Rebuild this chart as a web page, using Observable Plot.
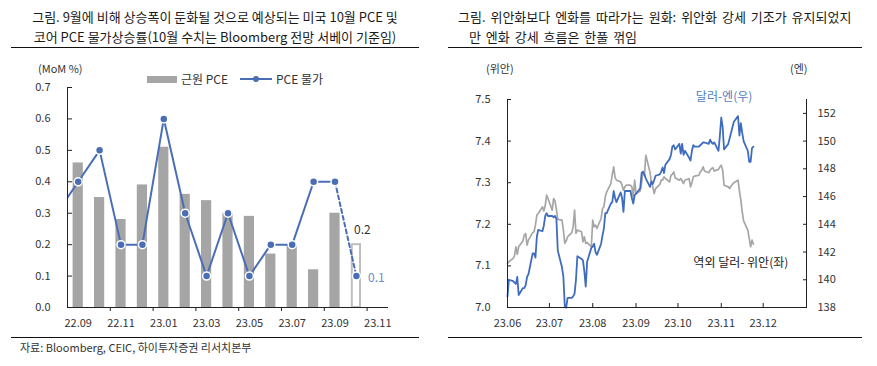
<!DOCTYPE html>
<html><head><meta charset="utf-8">
<script src="https://cdn.jsdelivr.net/npm/d3@7"></script>
<script src="https://cdn.jsdelivr.net/npm/@observablehq/plot@0.6"></script>
<style>
body{margin:0;background:#fff;font-family:"Noto Sans CJK KR","Noto Sans",sans-serif;color:#1a1a1a}
#wrap{position:relative;width:877px;height:366px;overflow:hidden}
.abs{position:absolute;white-space:nowrap}
.title{font-size:13px;line-height:20px}
.hr{position:absolute;height:0;border-top:1px solid #111}
.sm{font-size:11px;color:#333}
svg{position:absolute}
</style></head><body><div id="wrap"></div>
<script>
// ---------- Left chart data ----------
const months = ["22.09","22.10","22.11","22.12","23.01","23.02","23.03","23.04","23.05","23.06","23.07","23.08","23.09","23.10","23.11"];
const corePce = [0.46,0.35,0.28,0.39,0.51,0.36,0.34,0.30,0.29,0.17,0.20,0.12,0.30]; // 22.09–23.09
const corePceForecast = 0.2;   // 23.10 (Bloomberg survey)
const headlinePrev = 0.3;      // 22.08 (clipped at left edge)
const headlinePce = [0.4,0.5,0.2,0.2,0.6,0.3,0.1,0.3,0.1,0.2,0.2,0.4,0.4]; // 22.09–23.09
const headlineForecast = 0.1;  // 23.10
const leftYTicks = [0,0.1,0.2,0.3,0.4,0.5,0.6,0.7];

// ---------- Right chart data (business days 2023-06-01 … 2023-11-24) ----------
const cnhJun = [7.106,7.110,7.118,7.124,7.146,7.128,7.146,7.160,7.174,7.178,7.150,7.162,7.180,7.182,7.198,7.222,7.226,7.242,7.232,7.245,7.270,7.262];
const cnhJul = [7.234,7.262,7.256,7.236,7.212,7.210,7.186,7.154,7.160,7.170,7.180,7.194,7.234,7.178,7.186,7.182,7.158,7.170,7.154,7.156,7.146];
const cnhAug = [7.210,7.194,7.198,7.190,7.214,7.238,7.242,7.266,7.278,7.298,7.320,7.338,7.312,7.306,7.302,7.294,7.282,7.290,7.294,7.294,7.290,7.266,7.306];
const cnhSep = [7.274,7.280,7.300,7.326,7.318,7.366,7.325,7.300,7.290,7.274,7.286,7.296,7.306,7.306,7.314,7.310,7.302,7.318,7.320,7.326,7.312];
const cnhOct = [7.306,7.310,7.304,7.298,7.306,7.310,7.290,7.300,7.314,7.316,7.318,7.326,7.330,7.338,7.328,7.324,7.330,7.334,7.336,7.328,7.332,7.338];
const cnhNov = [7.342,7.330,7.294,7.290,7.286,7.292,7.296,7.300,7.306,7.280,7.258,7.230,7.208,7.186,7.166,7.146,7.162,7.152];

const jpyJun = [138.8,140.0,139.9,139.8,139.7,140.2,138.9,139.4,139.4,139.6,140.2,140.4,141.9,141.9,141.6,143.1,143.6,143.5,143.9,144.6,144.8,144.6];
const jpyJul = [144.6,144.5,144.6,144.4,142.1,140.9,140.2,138.1,138.0,138.7,138.7,138.8,139.0,140.0,141.7,141.5,141.4,140.6,139.5,141.3,142.3];
const jpyAug = [142.4,142.6,142.0,141.8,142.6,143.2,143.7,144.8,144.8,145.5,145.6,146.4,145.9,145.6,146.3,145.9,144.9,146.4,146.4,146.4,145.9,145.5,146.1];
const jpySep = [146.2,146.6,147.7,147.8,147.6,147.3,146.7,147.1,146.9,147.2,147.5,147.6,147.8,148.1,147.7,148.3,148.7,149.0,149.6,149.7,149.4];
const jpyOct = [149.8,149.1,149.8,149.0,149.3,148.8,148.6,149.3,149.7,149.6,149.6,149.7,149.8,149.9,149.9,149.8,150.1,149.9,149.8,149.9,149.3,150.4];
const jpyNov = [151.7,151.0,149.4,149.8,150.2,150.6,151.0,151.4,151.8,150.4,151.3,150.6,150.0,149.3,148.5,148.5,149.5,149.6];

const cnhTicks = [7.0,7.1,7.2,7.3,7.4,7.5];
const jpyTicks = [138,140,142,144,146,148,150,152];
const cnhDomain = [7.0, 7.5];
const jpyDomain = [138, 153];
const fxStart = "2023-06-01", fxEnd = "2023-11-24", fxAxisEnd = "2024-01-01";
const annotations = [
  {text: "달러-엔(우)", date: "2023-11-03", value: 7.505, color: "#4f7fc0"},
  {text: "역외 달러- 위안(좌)", date: "2023-11-15", value: 7.106, color: "#222"}
];

// ---------- Build ----------
const wrap = document.getElementById("wrap");
function html(tag, cls, style, text){const e=document.createElement(tag);e.className=cls;Object.assign(e.style,style);if(text!=null)e.textContent=text;wrap.appendChild(e);return e;}

const blue = "#4a6eb5";
const font = {fontFamily:'"Noto Sans CJK KR","Noto Sans",sans-serif', fontSize:"11px", color:"#333", background:"transparent", overflow:"visible"};

// Titles
html("div","abs title",{left:"10px",width:"410px",top:"7px",textAlign:"center"},"그림. 9월에 비해 상승폭이 둔화될 것으로 예상되는 미국 10월 PCE 및");
html("div","abs title",{left:"10px",width:"410px",top:"27px",textAlign:"center"},"코어 PCE 물가상승률(10월 수치는 Bloomberg 전망 서베이 기준임)");
html("div","hr",{left:"11px",width:"408px",top:"47px"});
html("div","abs title",{left:"458px",top:"7px",wordSpacing:"2px"},"그림. 위안화보다 엔화를 따라가는 원화: 위안화 강세 기조가 유지되었지");
html("div","abs title",{left:"469px",top:"27px",wordSpacing:"2px"},"만 엔화 강세 흐름은 한풀 꺾임");
html("div","hr",{left:"448px",width:"414px",top:"47px"});

// Left axis unit + legend
html("div","abs sm",{left:"38px",top:"60px"},"(MoM %)");
html("div","abs",{left:"147px",top:"76px",width:"30px",height:"7px",background:"#a5a5a5"});
html("div","abs",{left:"181px",top:"70px",fontSize:"12px",color:"#333"},"근원 PCE");
html("div","abs",{left:"240px",top:"78px",width:"32px",height:"0",borderTop:"2px solid "+blue});
html("div","abs",{left:"253px",top:"76px",width:"6px",height:"6px",borderRadius:"50%",background:blue});
html("div","abs",{left:"276px",top:"70px",fontSize:"12px",color:"#333"},"PCE 물가");

// Right units
html("div","abs sm",{left:"486px",top:"60px"},"(위안)");
html("div","abs sm",{left:"790px",top:"60px"},"(엔)");

// Bottom caption + rules
html("div","hr",{left:"11px",width:"408px",top:"337px"});
html("div","abs sm",{left:"20px",top:"339px"},"자료: Bloomberg, CEIC, 하이투자증권 리서치본부");
html("div","hr",{left:"448px",width:"414px",top:"337px"});

// ---------- Left chart ----------
const coreData = corePce.map((v,i)=>({i, v}));
const fcData = [{i: corePce.length, v: corePceForecast}];
const lineData = [{i:-1, v: headlinePrev}, ...headlinePce.map((v,i)=>({i, v}))];
const dashData = [{i: headlinePce.length-1, v: headlinePce[headlinePce.length-1]}, {i: headlinePce.length, v: headlineForecast}];
const dotData = [...headlinePce.map((v,i)=>({i, v})), {i: headlinePce.length, v: headlineForecast}];
const idx = months.map((m,i)=>i);

const left = Plot.plot({
  width: 420, height: 280,
  marginTop: 27, marginBottom: 33, marginLeft: 67, marginRight: 32,
  style: font,
  x: {type: "linear", domain: [-0.5, months.length - 0.5], label: null},
  y: {domain: [0, 0.7], label: null},
  marks: [
    Plot.rectY(coreData, {x1: d=>d.i-0.5, x2: d=>d.i+0.5, y: "v", insetLeft: 5.6, insetRight: 5.6, fill: "#a5a5a5"}),
    Plot.rectY(fcData, {x1: d=>d.i-0.5, x2: d=>d.i+0.5, y: "v", insetLeft: 6.6, insetRight: 6.6, fill: "white", stroke: "#bfbfbf", strokeWidth: 2}),
    Plot.line(lineData, {x: "i", y: "v", stroke: blue, strokeWidth: 2, clip: true}),
    Plot.line(dashData, {x: "i", y: "v", stroke: blue, strokeWidth: 2, strokeDasharray: "4,3"}),
    Plot.dot(dotData, {x: "i", y: "v", r: 4, fill: blue, stroke: "white", strokeWidth: 1.5}),
    Plot.text(fcData, {x: "i", y: "v", text: d=>d.v.toFixed(1), dx: 6, dy: -14, fill: "#333", fontSize: 12}),
    Plot.text(dotData.slice(-1), {x: "i", y: "v", text: d=>d.v.toFixed(1), dx: 20, dy: 2, fill: "#6b8cc8", fontSize: 12}),
    Plot.ruleX([-0.5], {stroke: "#222"}),
    Plot.ruleY([0], {stroke: "#222"}),
    Plot.axisY(leftYTicks, {anchor: "left", label: null, tickSize: -5, tickPadding: 22, tickFormat: d3.format(".1f"), stroke: "#222"}),
    Plot.axisX(idx.filter(i=>i%2===1).map(i=>i+0.5), {anchor: "bottom", label: null, tickSize: 4, tickFormat: ()=>"", stroke: "#222"}),
    Plot.axisX(idx.filter(i=>i%2===0), {anchor: "bottom", label: null, tickSize: 0, tickPadding: 12, tickFormat: i=>months[i]})
  ]
});
left.style.left = "0px"; left.style.top = "60px";
wrap.appendChild(left);

// ---------- Right chart ----------
const cnh = [...cnhJun,...cnhJul,...cnhAug,...cnhSep,...cnhOct,...cnhNov];
const jpy = [...jpyJun,...jpyJul,...jpyAug,...jpySep,...jpyOct,...jpyNov];
const days = d3.utcDay.range(new Date(fxStart), d3.utcDay.offset(new Date(fxEnd), 1)).filter(d=>d.getUTCDay()%6!==0);
const fx = days.map((date,k)=>({date, cnh: cnh[k], jpy: jpy[k]})).filter(d=>d.cnh!=null && d.jpy!=null);
const k = (cnhDomain[1]-cnhDomain[0])/(jpyDomain[1]-jpyDomain[0]);
const toY = j => cnhDomain[0] + (j - jpyDomain[0]) * k;
const fromY = y => jpyDomain[0] + (y - cnhDomain[0]) / k;
const x0 = new Date(fxStart), x1 = new Date(fxAxisEnd);
const monthTicks = d3.utcMonth.range(x0, d3.utcMonth.ceil(d3.utcDay.offset(new Date(fxEnd), 1))).concat([d3.utcMonth.ceil(new Date(fxEnd))]);
const uniqTicks = Array.from(new Set(monthTicks.map(d=>+d))).map(t=>new Date(t));

const right = Plot.plot({
  width: 437, height: 280,
  marginTop: 39, marginBottom: 33, marginLeft: 67, marginRight: 71,
  style: font,
  x: {type: "utc", domain: [x0, x1], label: null},
  y: {domain: cnhDomain, label: null},
  marks: [
    Plot.line(fx, {x: "date", y: "cnh", stroke: "#a6a6a6", strokeWidth: 1.7}),
    Plot.line(fx, {x: "date", y: d=>toY(d.jpy), stroke: "#3f6cbf", strokeWidth: 1.8}),
    Plot.ruleX([x0, x1], {stroke: "#222"}),
    Plot.ruleY([cnhDomain[0]], {stroke: "#222"}),
    Plot.axisY(cnhTicks, {anchor: "left", label: null, tickSize: -4, tickPadding: 21, tickFormat: d3.format(".1f"), stroke: "#222"}),
    Plot.axisY(jpyTicks.map(toY), {anchor: "right", label: null, tickSize: -4, tickPadding: 15, tickFormat: d=>String(Math.round(fromY(d))), stroke: "#222"}),
    Plot.axisX(uniqTicks, {anchor: "bottom", label: null, tickSize: -4, tickPadding: 16, tickFormat: d3.utcFormat("%y.%m"), stroke: "#222"}),
    Plot.text(annotations, {x: d=>new Date(d.date), y: "value", text: "text", fill: d=>d.color, fontSize: 12})
  ]
});
right.style.left = "440px"; right.style.top = "60px";
wrap.appendChild(right);
</script></body></html>
